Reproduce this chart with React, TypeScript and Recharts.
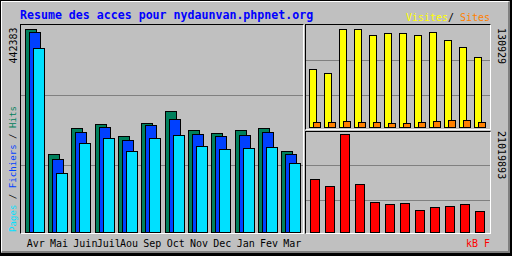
import { BarChart, Bar, XAxis, YAxis, CartesianGrid } from "recharts";

// monthly summary, Avr -> Mar
const MONTHS = ["Avr", "Mai", "Juin", "Juil", "Aou", "Sep", "Oct", "Nov", "Dec", "Jan", "Fev", "Mar"];
const HITS = [442383, 169874, 226512, 235301, 209188, 237466, 263709, 222317, 215690, 222205, 226488, 176544];
const FILES = [435812, 159102, 217933, 228790, 200452, 233120, 246281, 213540, 209177, 211349, 217906, 169931];
const PAGES = [400955, 128540, 193961, 204820, 176503, 204877, 211342, 187394, 180866, 183027, 185211, 150342];
const VISITS = [77488, 72140, 130929, 130512, 122906, 125577, 125590, 122914, 126921, 116230, 106882, 93519];
const SITES = [6680, 6702, 8016, 6655, 6691, 5344, 5361, 6680, 8023, 9352, 9340, 6671];
const KBYTES = [11367912, 9866470, 21019893, 10295480, 6434690, 6005702, 6220185, 4718790, 5362215, 5576702, 6005688, 4504290];

const BG = "#C0C0C0";
const GREY = "#808080";
const C_HITS = "#00805C";
const C_FILES = "#0040FF";
const C_PAGES = "#00E0FF";
const C_VISITS = "#FFFF00";
const C_SITES = "#FF8000";
const C_KB = "#FF0000";
const MONO = "'DejaVu Sans Mono', monospace";

const rows = MONTHS.map((m, i) => ({
  month: m,
  hits: HITS[i],
  files: FILES[i],
  pages: PAGES[i],
  visits: VISITS[i],
  sites: SITES[i],
  kb: KBYTES[i],
}));

const maxHits = Math.max(...HITS);
const maxVisits = Math.max(...VISITS);
const maxKb = Math.max(...KBYTES);

// webalizer scales the biggest bar to a fixed height, grid sits at fixed rows
const mainTop = (maxHits * 207.5) / 203;
const mainGrid = [67, 137].map(h => (h / 207.5) * mainTop);
const visTop = (maxVisits * 102.5) / 98;
const visGrid = [32, 67].map(h => (h / 102.5) * visTop);
const kbTop = (maxKb * 100.5) / 98;
const kbGrid = [32, 67].map(h => (h / 100.5) * kbTop);

function MonthTick(props: any) {
  const { x, y, payload } = props;
  return (
    <text x={x - 8} y={y + 14} fontFamily={MONO} fontSize={10} fill="#000">
      {payload.value}
    </text>
  );
}

function Panel({ left, top, width, height }: { left: number; top: number; width: number; height: number }) {
  return (
    <div
      style={{
        position: "absolute",
        left,
        top,
        width,
        height,
        boxSizing: "border-box",
        borderTop: "1px solid #000",
        borderLeft: "1px solid #000",
        borderRight: "1px solid #fff",
        borderBottom: "1px solid #fff",
      }}
    />
  );
}

export default function App() {
  return (
    <div
      style={{
        position: "absolute",
        left: 0,
        top: 0,
        width: 512,
        height: 256,
        boxSizing: "border-box",
        background: BG,
        borderTop: "1px solid #000",
        borderLeft: "1px solid #000",
        borderRight: "2px solid #000",
        borderBottom: "3px solid #000",
        shapeRendering: "crispEdges",
      }}
    >
      <div
        style={{
          position: "absolute",
          left: 0,
          top: 0,
          right: 0,
          bottom: 0,
          borderTop: "1px solid #fff",
          borderLeft: "1px solid #fff",
          borderRight: "2px solid " + GREY,
          borderBottom: "2px solid " + GREY,
        }}
      />
      <div style={{ position: "absolute", left: -1, top: -1, width: 512, height: 256 }}>
        <Panel left={20} top={24} width={284} height={210} />
        <Panel left={305} top={24} width={186} height={106} />
        <Panel left={305} top={131} width={186} height={103} />

        <div style={{ position: "absolute", left: 21, top: 25 }}>
          <BarChart width={282} height={228} data={rows} margin={{ top: 0, right: 0, bottom: 0, left: 0 }} barSize={11} barGap={-7}>
            <CartesianGrid vertical={false} stroke={GREY} horizontalValues={mainGrid} />
            <XAxis
              dataKey="month"
              height={20.5}
              padding={{ left: 2, right: 0 }}
              axisLine={false}
              tickLine={false}
              tickSize={0}
              tickMargin={0}
              interval={0}
              tick={MonthTick}
            />
            <YAxis hide domain={[0, mainTop]} ticks={mainGrid} />
            <Bar dataKey="hits" fill={C_HITS} stroke="#000" isAnimationActive={false} />
            <Bar dataKey="files" fill={C_FILES} stroke="#000" isAnimationActive={false} />
            <Bar dataKey="pages" fill={C_PAGES} stroke="#000" isAnimationActive={false} />
          </BarChart>
        </div>

        <div style={{ position: "absolute", left: 306, top: 25 }}>
          <BarChart width={184} height={103} data={rows} margin={{ top: 0, right: 0, bottom: 0.5, left: 0 }} barSize={7} barGap={-3}>
            <CartesianGrid vertical={false} stroke={GREY} horizontalValues={visGrid} />
            <XAxis dataKey="month" hide padding={{ left: 1.5, right: 2.5 }} />
            <YAxis hide domain={[0, visTop]} ticks={visGrid} />
            <Bar dataKey="visits" fill={C_VISITS} stroke="#000" isAnimationActive={false} />
            <Bar dataKey="sites" fill={C_SITES} stroke="#000" isAnimationActive={false} />
          </BarChart>
        </div>

        <div style={{ position: "absolute", left: 306, top: 132 }}>
          <BarChart width={184} height={101} data={rows} margin={{ top: 0, right: 0, bottom: 0.5, left: 0 }} barSize={9}>
            <CartesianGrid vertical={false} stroke={GREY} horizontalValues={kbGrid} />
            <XAxis dataKey="month" hide padding={{ left: 1.5, right: 2.5 }} />
            <YAxis hide domain={[0, kbTop]} ticks={kbGrid} />
            <Bar dataKey="kb" fill={C_KB} stroke="#000" isAnimationActive={false} />
          </BarChart>
        </div>

        <svg width={512} height={256} style={{ position: "absolute", left: 0, top: 0, pointerEvents: "none" }}>
          <text x={20} y={19} fontFamily={MONO} fontWeight="bold" fontSize={11.6} fill="#0000FF">
            Resume des acces pour nydaunvan.phpnet.org
          </text>
          <text x={406} y={21} fontFamily={MONO} fontSize={10} fill={C_VISITS}>Visites</text>
          <text x={448} y={21} fontFamily={MONO} fontSize={10} fill="#000">/</text>
          <text x={460} y={21} fontFamily={MONO} fontSize={10} fill={C_SITES}>Sites</text>
          <text x={466} y={247} fontFamily={MONO} fontSize={10} fill={C_KB}>kB F</text>

          <text transform="translate(16.5,63.5) rotate(-90)" fontFamily={MONO} fontSize={10} fill="#000">
            {String(maxHits)}
          </text>
          <text transform="translate(16,232) rotate(-90)" fontFamily={MONO} fontSize={9.1}>
            <tspan fill={C_PAGES}>Pages</tspan>
            <tspan fill="#000"> / </tspan>
            <tspan fill={C_FILES}>Fichiers</tspan>
            <tspan fill="#000"> / </tspan>
            <tspan fill={C_HITS}>Hits</tspan>
          </text>
          <text transform="translate(497.5,28) rotate(90)" fontFamily={MONO} fontSize={10} fill="#000">
            {String(maxVisits)}
          </text>
          <text transform="translate(497.5,131) rotate(90)" fontFamily={MONO} fontSize={10} fill="#000">
            {String(maxKb)}
          </text>
        </svg>
      </div>
    </div>
  );
}
